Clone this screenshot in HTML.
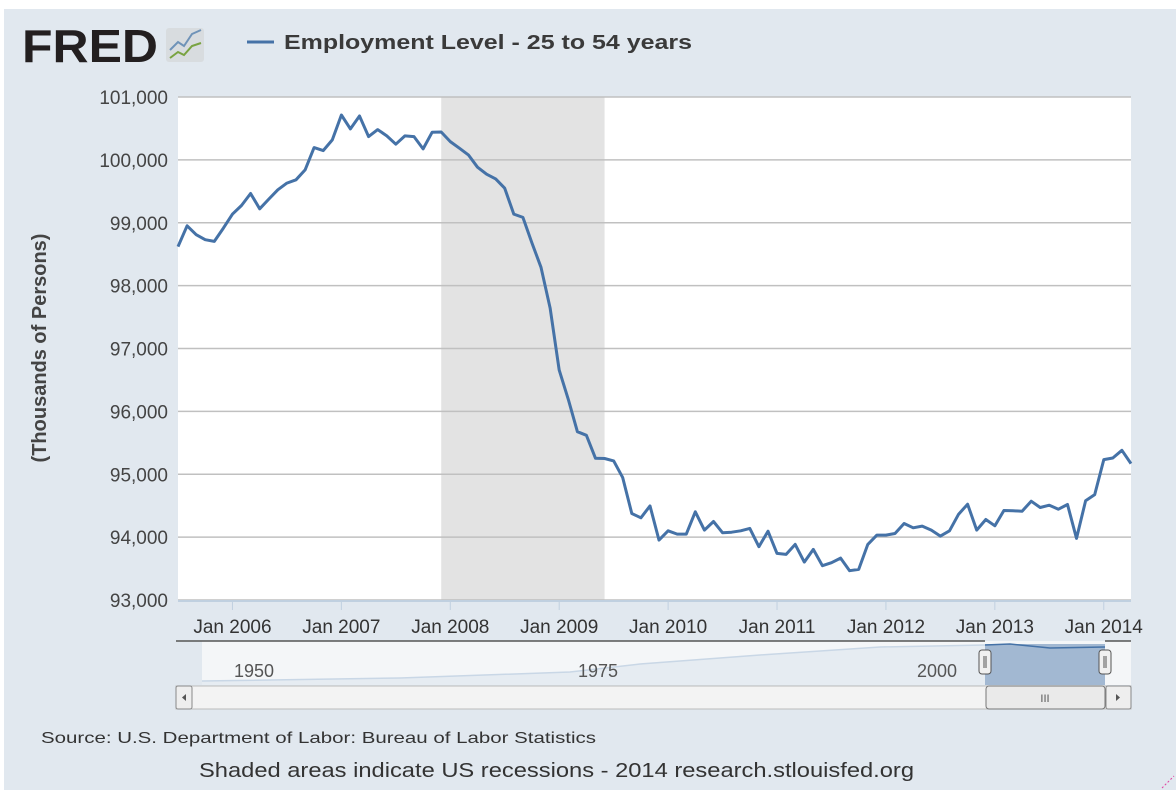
<!DOCTYPE html>
<html><head><meta charset="utf-8"><style>
body{margin:0;background:#fff;}
svg{display:block;font-family:"Liberation Sans",sans-serif;}
</style></head><body>
<svg width="1176" height="790" viewBox="0 0 1176 790">
<rect x="4" y="9" width="1172" height="781" fill="#e1e8ef"/>
<g>
<text x="22" y="62" font-size="46" font-weight="bold" fill="#231f20" textLength="136" lengthAdjust="spacingAndGlyphs">FRED</text>
<rect x="166" y="28" width="38" height="34" rx="3" fill="#d8dcdf"/>
<polyline points="170,50 178,42 184,46 192,34 201,30" fill="none" stroke="#6f93b8" stroke-width="2"/>
<polyline points="170,58 178,52 184,55 192,46 201,43" fill="none" stroke="#79a341" stroke-width="2"/>
</g>
<g>
<line x1="247" y1="42" x2="274" y2="42" stroke="#4572a7" stroke-width="3"/>
<text x="284" y="49" font-size="20" font-weight="bold" fill="#3a3a3a" textLength="408" lengthAdjust="spacingAndGlyphs">Employment Level - 25 to 54 years</text>
</g>
<rect x="178" y="97" width="953" height="503" fill="#fff"/>
<g id="recess"></g>
<g id="grid"></g>
<g id="yticks"></g>
<g id="xticks"></g>
<path id="series" fill="none" stroke="#4572a7" stroke-width="3" stroke-linejoin="round"/>
<text transform="translate(46,348) rotate(-90)" text-anchor="middle" font-size="20" font-weight="bold" fill="#444">(Thousands of Persons)</text>
<g>
<rect x="202" y="641" width="929" height="44" fill="#f4f6f8"/>
<path d="M202,681 L400,678 L570,672 L640,664 L760,655 L880,647 L985,645 L985,685 L202,685 Z" fill="#e6ecf2"/>
<polyline points="202,681 400,678 570,672 640,664 760,655 880,647 985,645" fill="none" stroke="#c9d7e6" stroke-width="1.5"/>
<rect x="985" y="644" width="120" height="41" fill="#a2b8d2"/>
<polyline points="985,645 1010,644 1030,646 1050,648 1105,647" fill="none" stroke="#4572a7" stroke-width="1.5"/>
<line x1="176" y1="641" x2="985" y2="641" stroke="#555" stroke-width="1.5"/>
<line x1="1105" y1="641" x2="1131" y2="641" stroke="#555" stroke-width="1.5"/>
<text x="234" y="677" font-size="18" fill="#555">1950</text>
<text x="578" y="677" font-size="18" fill="#555">1975</text>
<text x="917" y="677" font-size="18" fill="#555">2000</text>
<rect x="979" y="650" width="12" height="24" rx="3" fill="#f0f0f0" stroke="#555"/>
<rect x="1099" y="650" width="12" height="24" rx="3" fill="#f0f0f0" stroke="#555"/>
<line x1="984" y1="656" x2="984" y2="668" stroke="#555"/><line x1="986" y1="656" x2="986" y2="668" stroke="#555"/>
<line x1="1104" y1="656" x2="1104" y2="668" stroke="#555"/><line x1="1106" y1="656" x2="1106" y2="668" stroke="#555"/>
</g>
<g>
<rect x="176" y="686" width="955" height="23" fill="#f3f3f3" stroke="#bbb"/>
<rect x="176" y="686" width="16" height="23" rx="2" fill="#eee" stroke="#888"/>
<path d="M186,694 L182,697.5 L186,701 Z" fill="#555"/>
<rect x="986" y="686" width="119" height="23" rx="3" fill="#eaeaea" stroke="#777"/>
<text x="1045" y="702" text-anchor="middle" font-size="11" fill="#555">III</text>
<rect x="1106" y="686" width="25" height="23" rx="2" fill="#eee" stroke="#888"/>
<path d="M1116,694 L1120,697.5 L1116,701 Z" fill="#555"/>
</g>
<text x="41" y="743" font-size="16" fill="#333" textLength="555" lengthAdjust="spacingAndGlyphs">Source: U.S. Department of Labor: Bureau of Labor Statistics</text>
<text x="199" y="777" font-size="20" fill="#333" textLength="715" lengthAdjust="spacingAndGlyphs">Shaded areas indicate US recessions - 2014 research.stlouisfed.org</text>
<path d="M1162,788 L1174,776" stroke="#e040a0" stroke-width="1" stroke-dasharray="2,2"/>
</svg>
<script>
// Monthly data, Jul 2005 .. Apr 2014 (thousands of persons)
const startYear = 2005, startMonth = 6; // July (0-based)
const values = [98620,98952,98810,98730,98704,98915,99138,99275,99466,99222,99376,99524,99630,99683,99841,100196,100148,100317,100714,100492,100698,100370,100481,100381,100249,100381,100370,100175,100439,100444,100291,100185,100079,99884,99772,99698,99550,99138,99085,98677,98291,97646,96656,96190,95677,95619,95254,95250,95212,94947,94376,94307,94497,93952,94101,94048,94048,94402,94111,94249,94069,94079,94101,94138,93847,94095,93741,93725,93884,93603,93804,93545,93593,93667,93466,93487,93884,94032,94032,94058,94217,94148,94175,94111,94016,94101,94365,94524,94111,94280,94180,94423,94418,94413,94571,94471,94508,94444,94519,93979,94577,94677,95233,95259,95381,95169];
const yTicks = [93000,94000,95000,96000,97000,98000,99000,100000,101000];
const xTickYears = [2006,2007,2008,2009,2010,2011,2012,2013,2014];
const recessionStart = [2007, 11]; // Dec 2007
const recessionEnd = [2009, 5];    // Jun 2009

const NS='http://www.w3.org/2000/svg';
const X0=178, X1=1131, Y0=600, Y1=97, YMIN=93000, YMAX=101000;
const nMonths = values.length-1;
function xScale(y,m){const i=(y-startYear)*12+(m-startMonth);return X0+i/nMonths*(X1-X0);}
function yScale(v){return Y0-(v-YMIN)/(YMAX-YMIN)*(Y0-Y1);}
function mk(tag,attrs,parent){const e=document.createElementNS(NS,tag);for(const k in attrs)e.setAttribute(k,attrs[k]);parent.appendChild(e);return e;}

const rg=document.getElementById('recess');
const rx0=xScale(recessionStart[0],recessionStart[1]), rx1=xScale(recessionEnd[0],recessionEnd[1]);
const rr=mk('rect',{x:rx0,y:Y1,width:rx1-rx0,height:Y0-Y1,fill:'#e3e3e3'},rg);



const gg=document.getElementById('grid'), yt=document.getElementById('yticks');
yTicks.forEach(v=>{
  const y=yScale(v);
  const l=mk('line',{x1:X0,x2:X1,y1:y,y2:y,stroke:'#c0c0c0','stroke-width':1.5},gg);
  
  
  const t=mk('text',{x:168,y:y+7,'text-anchor':'end','font-size':19,fill:'#444'},yt);
  t.textContent=v.toLocaleString('en-US');
  
  
});
const xt=document.getElementById('xticks');
mk('line',{x1:X0,x2:X1,y1:Y0+1,y2:Y0+1,stroke:'#c0d0e0','stroke-width':2},xt);
xTickYears.forEach(yr=>{
  const x=xScale(yr,0);
  mk('line',{x1:x,x2:x,y1:Y0,y2:Y0+10,stroke:'#c0d0e0','stroke-width':1},xt);
  const t=mk('text',{x:x,y:Y0+33,'text-anchor':'middle','font-size':19,fill:'#333'},xt);
  t.textContent='Jan '+yr;
  
  
});
let d='';
values.forEach((v,i)=>{const x=xScale(startYear,startMonth+i);d+=(i?'L':'M')+x.toFixed(1)+','+yScale(v).toFixed(1);});
document.getElementById('series').setAttribute('d',d);
</script>
</body></html>
